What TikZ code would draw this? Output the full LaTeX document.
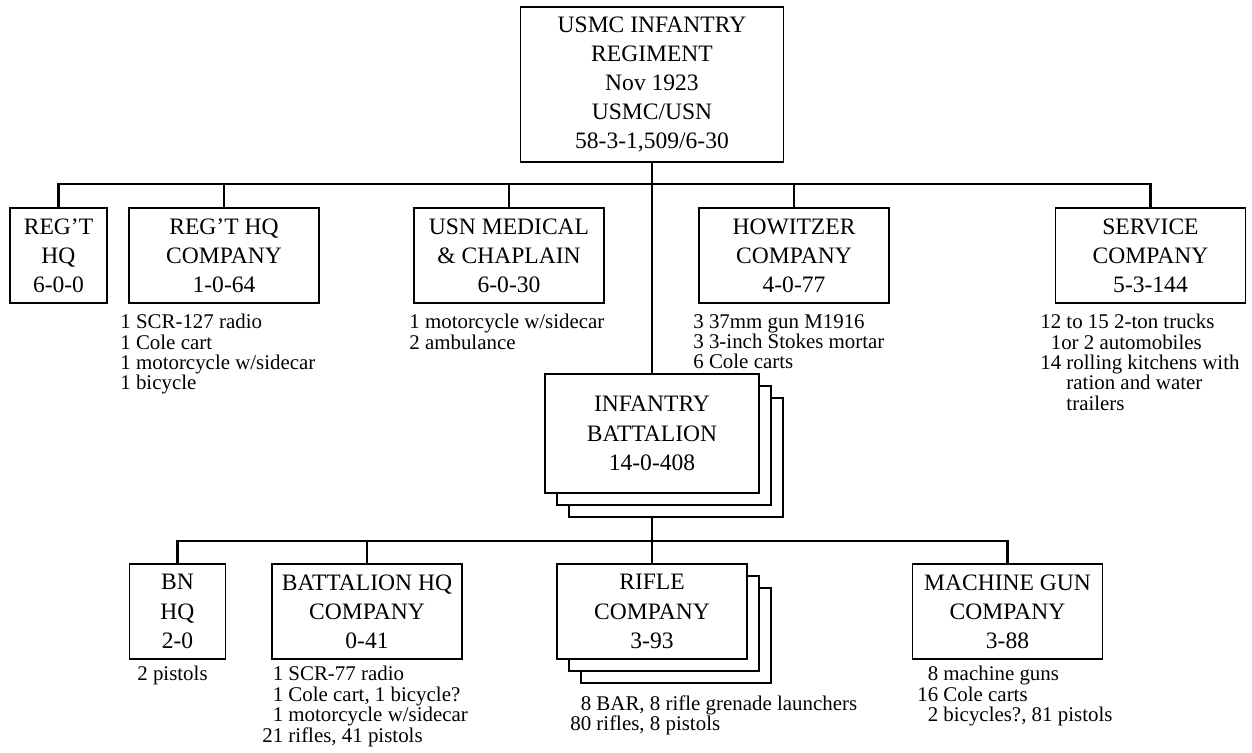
\documentclass[tikz,border=0pt]{standalone}
\usepackage{fontspec}
\setmainfont{Liberation Serif}
\usetikzlibrary{shadows,backgrounds}

\tikzset{
    unit/.style={draw, line width=1.1pt, fill=white, inner sep=0pt, align=center,
        minimum width=3.8cm, minimum height=1.9cm,
        font=\fontsize{13.4pt}{16.6pt}\selectfont},
    stacked/.style={
        copy shadow={shadow xshift=0.48cm, shadow yshift=-0.48cm, draw=black, fill=white, line width=1.1pt},
        copy shadow={shadow xshift=0.24cm, shadow yshift=-0.24cm, draw=black, fill=white, line width=1.1pt}},
    items/.style={anchor=north west, inner sep=0pt, align=left,
        font=\fontsize{11.9pt}{11.6pt}\selectfont},
    link/.style={line width=1.6pt}
}

\begin{document}
\begin{tikzpicture}[x=0.02cm,y=-0.02cm]
\useasboundingbox (0,0) rectangle (1252,753);

    \node[unit, minimum width=5.26cm, minimum height=3.1cm] (0) at (652,84.5) {USMC INFANTRY\\REGIMENT\\Nov 1923\\USMC/USN\\58-3-1,509/6-30};

    \node[unit, minimum width=1.94cm] (1) at (58.5,255.5) {REG’T\\HQ\\6-0-0};
    \node[unit] (2) at (224,255.5) {REG’T HQ\\COMPANY\\1-0-64};
    \node[unit] (3) at (509,255.5) {USN MEDICAL\\\& CHAPLAIN\\6-0-30};
    \node[unit] (4) at (794,255.5) {HOWITZER\\COMPANY\\4-0-77};
    \node[unit] (5) at (1150.5,255.5) {SERVICE\\COMPANY\\5-3-144};

    \node[unit, stacked, minimum width=4.28cm, minimum height=2.38cm] (6) at (652,433.5) {INFANTRY\\BATTALION\\14-0-408};

    \node[unit, minimum width=1.92cm] (7) at (177.5,611.5) {BN\\HQ\\2-0};
    \node[unit] (8) at (367,611.5) {BATTALION HQ\\COMPANY\\0-41};
    \node[unit, stacked] (9) at (652,611.5) {RIFLE\\COMPANY\\3-93};
    \node[unit] (10) at (1007.5,611.5) {MACHINE GUN\\COMPANY\\3-88};

    % equipment lists
    \node[items] (2e) at (120,314) {1 SCR-127 radio\\1 Cole cart\\1 motorcycle w/sidecar\\1 bicycle};
    \node[items] (3e) at (409,314) {1 motorcycle w/sidecar\\2 ambulance};
    \node[items] (4e) at (693,314) {3 37mm gun M1916\\3 3-inch Stokes mortar\\6 Cole carts};
    \node[items] (5e) at (1040,314) {12 to 15 2-ton trucks\\\phantom{1}1or 2 automobiles\\14 rolling kitchens with\\\phantom{14 }ration and water\\\phantom{14 }trailers};
    \node[items] (7e) at (137,666) {2 pistols};
    \node[items] (8e) at (262,666) {\phantom{2}1 SCR-77 radio\\\phantom{2}1 Cole cart, 1 bicycle?\\\phantom{2}1 motorcycle w/sidecar\\21 rifles, 41 pistols};
    \node[items] (9e) at (570,695) {\phantom{8}8 BAR, 8 rifle grenade launchers\\80 rifles, 8 pistols};
    \node[items] (10e) at (917,666) {\phantom{1}8 machine guns\\16 Cole carts\\\phantom{1}2 bicycles?, 81 pistols};

\coordinate (bus1) at (652,184);
\coordinate (bus2) at (652,541);
\begin{scope}[on background layer]
\draw[link] (1.north) |- (bus1) -| (5.north);
\foreach \n in {2,3,4}
    \draw[link] (\n.north) -- (\n.north |- bus1);
\draw[link] (0.south) -- (6.north);
\draw[link] (6.south) -- (9.north);
\draw[link] (7.north) |- (bus2) -| (10.north);
\draw[link] (8.north) -- (8.north |- bus2);
\end{scope}
\end{tikzpicture}
\end{document}
